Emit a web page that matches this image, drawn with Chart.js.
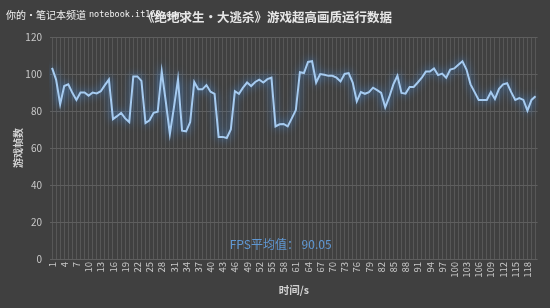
<!DOCTYPE html>
<html>
<head>
<meta charset="utf-8">
<script src="https://cdn.jsdelivr.net/npm/chart.js@4"></script>
<style>
  html, body { margin: 0; padding: 0; background: #404040; }
  #wrap { width: 550px; height: 308px; }
</style>
</head>
<body>
<div id="wrap"><canvas id="fps"></canvas></div>
<script>
// 每秒帧数, 1..120 s
var seconds = [];
for (var s = 1; s <= 120; s++) seconds.push(s);

var fpsValues = [
	103.3, 97, 83.7, 93.5, 94.4, 89.8, 86, 90, 90, 88.3,
	90, 89.5, 90.7, 94, 97, 75.6, 77.2, 79, 76, 74,
	98.7, 98.7, 96.3, 73.5, 75, 79, 79.6, 101.3, 85, 67.6,
	82, 97.2, 69.4, 69, 74, 95.7, 91.7, 91.7, 94, 90.4,
	89.3, 66, 66, 65.4, 70, 90.7, 89.3, 92.6, 95.4, 93.5,
	95.7, 96.9, 95.4, 97.2, 98, 71.7, 72.8, 73, 71.7, 76,
	80.5, 101, 100.5, 106.5, 106.9, 95.4, 100, 99.6, 99, 99,
	98, 96, 100, 100.5, 95.4, 85.2, 90.2, 89.3, 90.2, 92.6,
	91.3, 89.8, 82, 87.6, 94.4, 99, 89.8, 89.4, 93, 93,
	95.4, 98, 101.3, 101.3, 103, 99.4, 100.2, 98, 102.4, 103,
	105, 106.9, 102.4, 94.4, 90.2, 86, 86, 86, 90.2, 86.5,
	92, 94.4, 95, 90.2, 86, 87, 86, 80.2, 86, 88
];

var yTicks = [0, 20, 40, 60, 80, 100, 120];
var chartTitle = '《绝地求生·大逃杀》游戏超高画质运行数据';
var avgLabel = 'FPS平均值： 90.05';
var watermarkCn = '你的・笔记本频道';
var watermarkEn = 'notebook.it168.com';

var FONT = '"Noto Sans CJK SC", "Noto Sans", sans-serif';

// background, glow under the line, and the loose text bits
var decor = {
	id: 'decor',
	beforeDraw: function(chart) {
		var ctx = chart.ctx;
		ctx.save();
		ctx.fillStyle = '#404040';
		ctx.fillRect(0, 0, chart.width, chart.height);
		ctx.restore();
	},
	beforeDatasetsDraw: function(chart) {
		var ctx = chart.ctx;
		ctx.save();
		ctx.shadowColor = 'rgba(70,150,240,1)';
		ctx.shadowBlur = 8;
	},
	afterDatasetsDraw: function(chart) {
		chart.ctx.restore();
	},
	afterDraw: function(chart) {
		var ctx = chart.ctx,
			area = chart.chartArea,
			y = chart.scales.y;
		ctx.save();
		ctx.textBaseline = 'middle';

		// title
		ctx.fillStyle = '#e6e6e6';
		ctx.font = 'bold 12.5px ' + FONT;
		ctx.textAlign = 'center';
		ctx.fillText(chartTitle, 267, 17);

		// average note
		ctx.fillStyle = '#5f97d2';
		ctx.font = '12px ' + FONT;
		ctx.fillText(avgLabel, area.left + (area.right - area.left) * 0.473, y.getPixelForValue(8));

		// watermark
		ctx.fillStyle = '#f2f2f2';
		ctx.textAlign = 'left';
		ctx.font = '10px ' + FONT;
		ctx.fillText(watermarkCn, 6, 15);
		var w = ctx.measureText(watermarkCn).width;
		ctx.font = '8.5px "DejaVu Sans Mono", monospace';
		ctx.fillText(watermarkEn, 6 + w + 3, 15);
		ctx.restore();
	}
};

new Chart(document.getElementById('fps'), {
	type: 'line',
	data: {
		labels: seconds,
		datasets: [{
			data: fpsValues,
			borderColor: '#a6cbf0',
			borderWidth: 2,
			pointRadius: 0,
			tension: 0,
			fill: false
		}]
	},
	options: {
		responsive: true,
		maintainAspectRatio: false,
		animation: false,
		layout: { padding: { left: 0, right: 6, top: 37, bottom: 12 } },
		plugins: {
			legend: { display: false },
			tooltip: { enabled: false },
			title: { display: false }
		},
		scales: {
			x: {
				offset: true,
				grid: { color: '#575757', lineWidth: 1, drawTicks: false, offset: false },
				border: { display: false },
				ticks: {
					color: '#c8c8c8',
					font: { family: FONT, size: 9.5 },
					autoSkip: false,
					maxRotation: 90,
					minRotation: 90,
					padding: 3,
					callback: function(val, idx) {
						return idx % 3 === 0 ? String(seconds[idx]) : '';
					}
				},
				title: {
					display: true,
					text: '时间/s',
					color: '#d0d0d0',
					font: { family: FONT, size: 10.5, weight: 'bold' },
					padding: { top: 2, bottom: 0 }
				},
				afterFit: function(scale) { scale.height = 37; }
			},
			y: {
				min: 0,
				max: 120,
				afterBuildTicks: function(scale) {
					scale.ticks = yTicks.map(function(v) { return { value: v }; });
				},
				grid: { color: '#5e5e5e', drawTicks: false },
				border: { display: false },
				ticks: {
					color: '#c8c8c8',
					font: { family: FONT, size: 10 },
					padding: 8
				},
				title: {
					display: true,
					text: '游戏帧数',
					color: '#d0d0d0',
					font: { family: FONT, size: 10, weight: 'bold' },
					padding: { top: 12, bottom: 0 }
				},
				afterFit: function(scale) { scale.width = 50; }
			}
		}
	},
	plugins: [decor]
});
</script>
</body>
</html>
